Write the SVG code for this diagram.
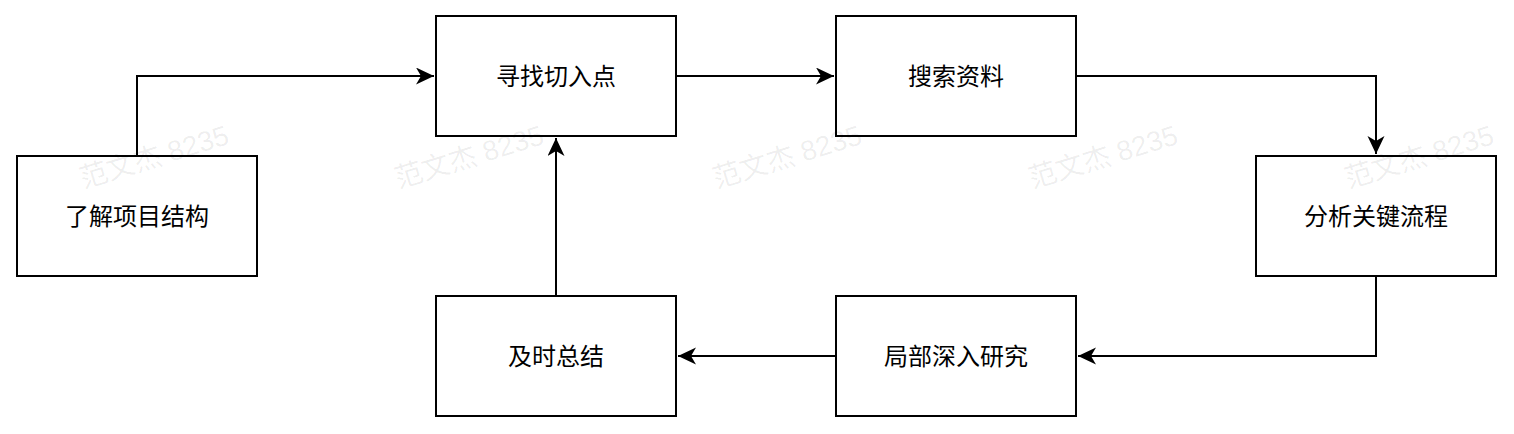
<svg xmlns="http://www.w3.org/2000/svg" width="1514" height="434" viewBox="0 0 1514 434">
<style>
.box{fill:#fff;stroke:#000;stroke-width:2}
.lbl{font-family:"Noto Sans CJK SC","Noto Sans",sans-serif;font-size:24px;fill:#000;text-anchor:middle}
.edge{fill:none;stroke:#000;stroke-width:2}
.wm{font-family:"Liberation Sans","Noto Sans CJK SC",sans-serif;font-size:28px;fill:#000;fill-opacity:0.07;text-anchor:middle}
</style>
<defs>
<marker id="arr" markerUnits="userSpaceOnUse" markerWidth="20" markerHeight="18" refX="18" refY="8.5" orient="auto" viewBox="0 0 20 18">
<path d="M0,0 L18,8.5 L0,17 L5,8.5 Z" fill="#000"/>
</marker>
</defs>
<rect width="1514" height="434" fill="#fff"/>
<g id="connectors">
<path class="edge" d="M137,156 V76 H434" marker-end="url(#arr)"/>
<path class="edge" d="M676,76 H834" marker-end="url(#arr)"/>
<path class="edge" d="M1076,76 H1376 V154" marker-end="url(#arr)"/>
<path class="edge" d="M1376,276 V356 H1078" marker-end="url(#arr)"/>
<path class="edge" d="M836,356 H678" marker-end="url(#arr)"/>
<path class="edge" d="M556,296 V138" marker-end="url(#arr)"/>
</g>
<g id="n1"><rect class="box" x="17" y="156" width="240" height="120"/><text class="lbl" x="137" y="225">了解项目结构</text></g>
<g id="n2"><rect class="box" x="436" y="16" width="240" height="120"/><text class="lbl" x="556" y="85">寻找切入点</text></g>
<g id="n3"><rect class="box" x="836" y="16" width="240" height="120"/><text class="lbl" x="956" y="85">搜索资料</text></g>
<g id="n4"><rect class="box" x="1256" y="156" width="240" height="120"/><text class="lbl" x="1376" y="225">分析关键流程</text></g>
<g id="n5"><rect class="box" x="836" y="296" width="240" height="120"/><text class="lbl" x="956" y="365">局部深入研究</text></g>
<g id="n6"><rect class="box" x="436" y="296" width="240" height="120"/><text class="lbl" x="556" y="365">及时总结</text></g>
<g id="watermark">
<text class="wm" transform="translate(157,166) rotate(-17)">范文杰 8235</text>
<text class="wm" transform="translate(472,166) rotate(-17)">范文杰 8235</text>
<text class="wm" transform="translate(790,166) rotate(-17)">范文杰 8235</text>
<text class="wm" transform="translate(1106,166) rotate(-17)">范文杰 8235</text>
<text class="wm" transform="translate(1422,166) rotate(-17)">范文杰 8235</text>
</g>
</svg>
